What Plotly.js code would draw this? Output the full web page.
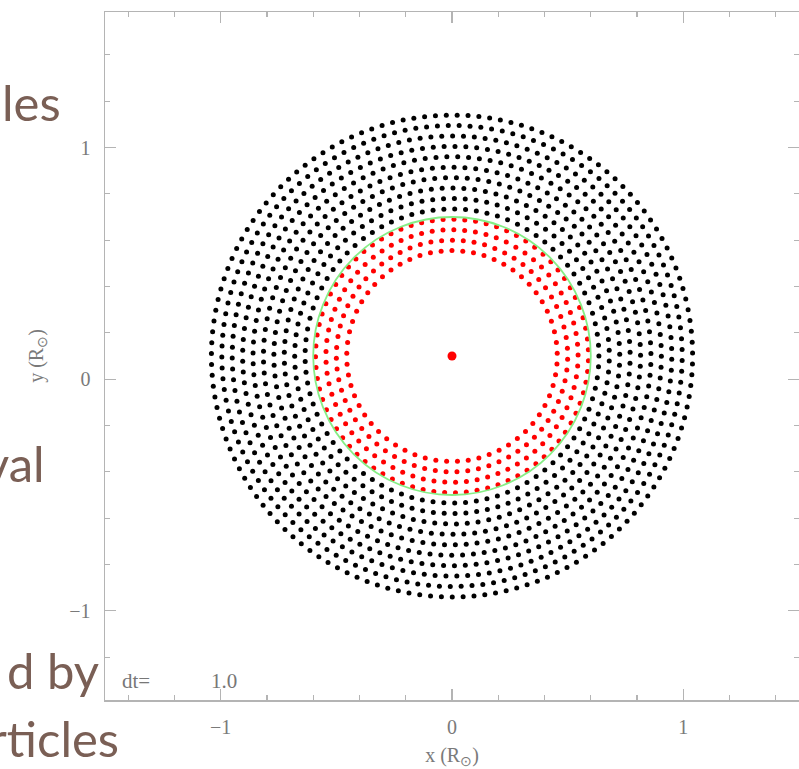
<!DOCTYPE html>
<html>
<head>
<meta charset="utf-8">
<script src="https://cdn.plot.ly/plotly-3.0.1.min.js"></script>
<style>html,body{margin:0;padding:0;background:#fff;}#chart{width:799px;height:769px;}</style>
</head>
<body>
<div id="chart"></div>
<script>
// ---- data ----
// star centre (x, y) in solar radii
const centreX = [0];
const centreY = [0.1];
// outer (black) particle rings: radius, number of particles, phase (deg)
const blackRingR = [0.635, 0.68, 0.725, 0.77, 0.815, 0.86, 0.905, 0.95, 0.995, 1.04];
const blackRingN = [85, 91, 97, 103, 109, 115, 121, 127, 133, 139];
const blackRingPhase = [0, 2.1, 4.3, 1.2, 3.5, 0.7, 2.9, 4.8, 1.6, 3.3];
// inner (red) particle rings
const redRingR = [0.455, 0.50, 0.545, 0.59];
const redRingN = [61, 67, 73, 79];
const redRingPhase = [1.5, 3.8, 0.4, 2.6];
// green boundary circle
const circleRadius = [0.6];
// tick labels
const tickVals = [-1, 0, 1];
const tickText = ['\u22121', '0', '1'];
// slide text fragments (left side)
const slideText = ['les', 'e', 'val', 'd by', 'rticles'];
const slideTextRight = [63, 3, 47, 101, 121];      // px, right edge
const slideTextMid = [102, 240, 463, 670, 738];    // px, vertical middle

function ringPoints(R, N, P) {
  const xs = [], ys = [];
  for (let k = 0; k < R.length; k++) {
    for (let i = 0; i < N[k]; i++) {
      const a = (P[k] * Math.PI / 180) + 2 * Math.PI * i / N[k];
      xs.push(centreX[0] + R[k] * Math.cos(a));
      ys.push(centreY[0] + R[k] * Math.sin(a));
    }
  }
  return {x: xs, y: ys};
}
const blk = ringPoints(blackRingR, blackRingN, blackRingPhase);
const red = ringPoints(redRingR, redRingN, redRingPhase);

const W = 799, H = 769, L = 105, R = 0, T = 12, B = 69;
const pw = W - L - R, ph = H - T - B;

const traces = [
  {type: 'scatter', mode: 'markers', x: blk.x, y: blk.y,
   marker: {color: '#000000', size: 5}, hoverinfo: 'skip', showlegend: false},
  {type: 'scatter', mode: 'markers', x: red.x, y: red.y,
   marker: {color: '#ff0000', size: 5}, hoverinfo: 'skip', showlegend: false},
  {type: 'scatter', mode: 'markers', x: centreX, y: centreY,
   marker: {color: '#ff0000', size: 9}, hoverinfo: 'skip', showlegend: false}
];

const annotations = slideText.map((t, i) => ({
  text: t, xref: 'paper', yref: 'paper',
  x: (slideTextRight[i] - L) / pw, y: (H - B - slideTextMid[i]) / ph,
  xanchor: 'right', yanchor: 'middle', showarrow: false,
  font: {family: 'Lato', size: 49, color: '#7a5f55'}
}));
annotations.push({text: 'dt=', xref: 'x', yref: 'y', x: -1.435, y: -1.305,
  xanchor: 'left', yanchor: 'middle', showarrow: false,
  font: {family: 'Liberation Serif', size: 21, color: '#777'}});
annotations.push({text: '1.0', xref: 'x', yref: 'y', x: -1.05, y: -1.305,
  xanchor: 'left', yanchor: 'middle', showarrow: false,
  font: {family: 'Liberation Serif', size: 21, color: '#777'}});

const axisCommon = {
  showgrid: false, zeroline: false, showline: true, linecolor: '#b4b4b4', linewidth: 1.5,
  mirror: 'allticks', ticks: 'inside', ticklen: 11, tickwidth: 1.2, tickcolor: '#b4b4b4',
  tickvals: tickVals, ticktext: tickText,
  tickfont: {family: 'Liberation Serif', size: 20, color: '#7a7a7a'},
  minor: {dtick: 0.2, ticks: 'inside', ticklen: 5, tickwidth: 1.2, tickcolor: '#b4b4b4'},
  automargin: false
};

const layout = {
  width: W, height: H,
  margin: {l: L, r: R, t: T, b: B, pad: 0},
  paper_bgcolor: '#ffffff', plot_bgcolor: '#ffffff',
  showlegend: false,
  xaxis: Object.assign({}, axisCommon, {
    range: [-1.5, 1.5], ticklabelstandoff: 8,
    title: {text: 'x (R<sub>\u2299</sub>)', standoff: 14,
            font: {family: 'Liberation Serif', size: 20, color: '#7a7a7a'}}
  }),
  yaxis: Object.assign({}, axisCommon, {
    range: [-1.385, 1.585], ticklabelstandoff: 9,
    title: {text: 'y (R<sub>\u2299</sub>)', standoff: 20,
            font: {family: 'Liberation Serif', size: 20, color: '#7a7a7a'}}
  }),
  shapes: [{type: 'circle', xref: 'x', yref: 'y', layer: 'above',
    x0: centreX[0] - circleRadius[0], x1: centreX[0] + circleRadius[0],
    y0: centreY[0] - circleRadius[0], y1: centreY[0] + circleRadius[0],
    line: {color: '#86ee86', width: 1.8}}],
  annotations: annotations
};

Plotly.newPlot('chart', traces, layout, {staticPlot: true, displayModeBar: false});
</script>
</body>
</html>
